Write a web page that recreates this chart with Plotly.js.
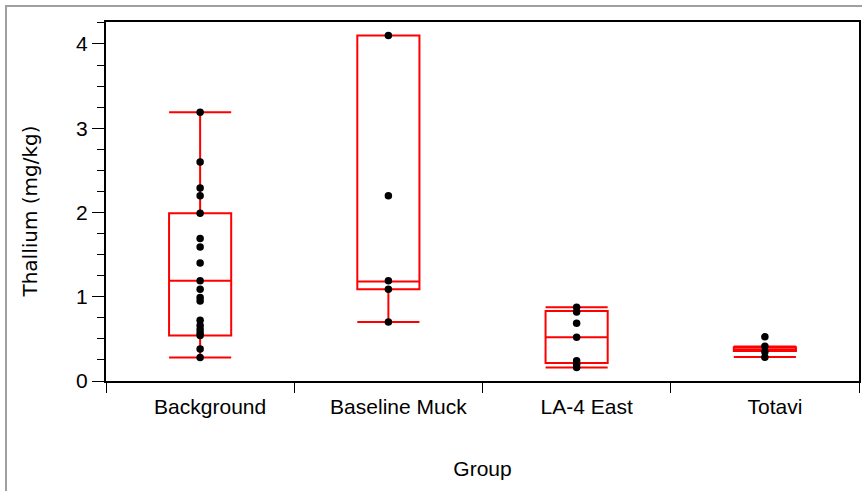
<!DOCTYPE html>
<html>
<head>
<meta charset="utf-8">
<script src="https://cdn.plot.ly/plotly-3.0.1.min.js"></script>
<style>
  html, body { margin: 0; padding: 0; background: #fff; }
  #chart { width: 862px; height: 491px; }
</style>
</head>
<body>
<div id="chart"></div>
<script>
// Categories
var categories = ["Background", "Baseline Muck", "LA-4 East", "Totavi"];

// Box statistics (mg/kg)
var lowerFence = [0.28, 0.70, 0.16, 0.285];
var q1Values   = [0.54, 1.09, 0.215, 0.355];
var medians    = [1.19, 1.18, 0.52, 0.375];
var q3Values   = [1.99, 4.10, 0.83, 0.40];
var upperFence = [3.19, 4.10, 0.875, 0.41];

// Individual observations (mg/kg)
var backgroundPts = [3.19, 2.60, 2.29, 2.20, 1.99, 1.69, 1.59, 1.40, 1.19, 1.09, 0.99, 0.95, 0.72, 0.66, 0.61, 0.57, 0.54, 0.38, 0.28];
var baselinePts   = [4.10, 2.20, 1.19, 1.09, 0.70];
var la4EastPts    = [0.875, 0.82, 0.685, 0.52, 0.24, 0.20, 0.16];
var totaviPts     = [0.524, 0.413, 0.348, 0.283];

// Y tick labels
var yTickVals = [0, 1, 2, 3, 4];
var yTickText = ["0", "1", "2", "3", "4"];

// Axis titles
var xTitle = "Group";
var yTitle = "Thallium (mg/kg)";

var groups = [backgroundPts, baselinePts, la4EastPts, totaviPts];
var px = [], py = [];
groups.forEach(function (arr, i) {
  arr.forEach(function (v) { px.push(categories[i]); py.push(v); });
});

var font = "Liberation Sans, Arial, Helvetica, sans-serif";

var boxTrace = {
  type: "box",
  x: categories,
  q1: q1Values,
  median: medians,
  q3: q3Values,
  lowerfence: lowerFence,
  upperfence: upperFence,
  boxpoints: false,
  width: 0.33,
  whiskerwidth: 1,
  fillcolor: "rgba(0,0,0,0)",
  line: { color: "#ff0000", width: 2 },
  hoverinfo: "skip",
  showlegend: false
};

var pointTrace = {
  type: "scatter",
  mode: "markers",
  x: px,
  y: py,
  marker: { color: "#000000", size: 7.5 },
  showlegend: false,
  hoverinfo: "y"
};

var layout = {
  width: 862,
  height: 491,
  margin: { l: 106, r: 3, t: 22, b: 110 },
  paper_bgcolor: "#ffffff",
  plot_bgcolor: "#ffffff",
  font: { family: font, size: 21, color: "#000000" },
  showlegend: false,
  xaxis: {
    type: "category",
    categoryorder: "array",
    categoryarray: categories,
    range: [-0.5, 3.5],
    tickson: "boundaries",
    ticks: "outside",
    ticklen: 10,
    tickwidth: 1,
    tickcolor: "#000",
    ticklabelshift: 10,
    ticklabelstandoff: 6,
    showline: true,
    linecolor: "#000",
    linewidth: 2,
    mirror: true,
    showgrid: false,
    zeroline: false,
    tickfont: { family: font, size: 21 },
    title: { text: xTitle, font: { family: font, size: 21 }, standoff: 44 }
  },
  yaxis: {
    range: [0, 4.261],
    tickmode: "array",
    tickvals: yTickVals,
    ticktext: yTickText,
    ticks: "outside",
    ticklen: 12,
    tickwidth: 1,
    tickcolor: "#000",
    minor: { dtick: 0.25, ticks: "outside", ticklen: 7, tickwidth: 1, tickcolor: "#000", showgrid: false },
    showline: true,
    linecolor: "#000",
    linewidth: 2,
    mirror: true,
    showgrid: false,
    zeroline: false,
    tickfont: { family: font, size: 21 }
  },
  annotations: [{
    text: yTitle,
    xref: "paper", yref: "paper",
    x: -0.1009, y: 0.472,
    xanchor: "center", yanchor: "middle",
    textangle: -90,
    showarrow: false,
    font: { family: "DejaVu Sans, Verdana, sans-serif", size: 20, color: "#000" }
  }],
  shapes: [{
    type: "rect",
    xref: "paper", yref: "paper",
    x0: -0.1328, x1: 1.02, y0: -0.34, y1: 1.0446,
    line: { color: "#a0a0a0", width: 2 },
    fillcolor: "rgba(0,0,0,0)",
    layer: "below"
  }]
};

Plotly.newPlot("chart", [boxTrace, pointTrace], layout, { displayModeBar: false, staticPlot: true });
</script>
</body>
</html>
